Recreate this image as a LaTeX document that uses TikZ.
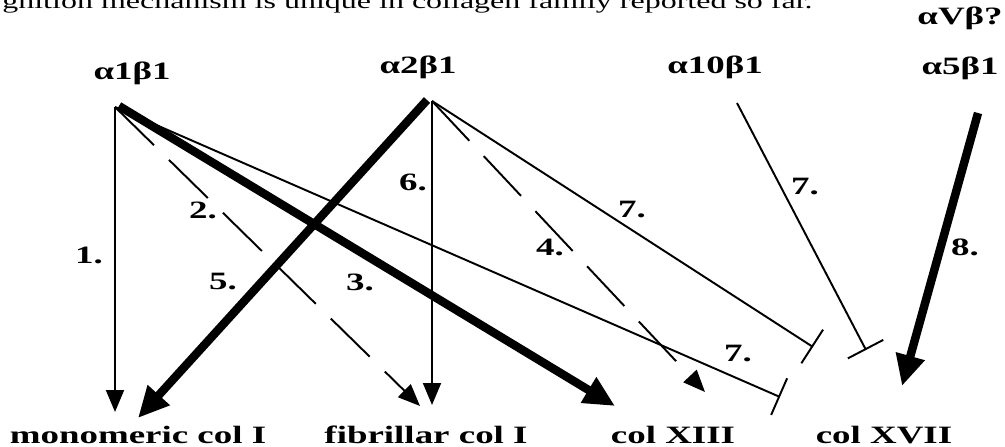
\documentclass[tikz,border=0pt]{standalone}
\usepackage{fontspec}
\setmainfont[FakeStretch=1.48]{Liberation Serif}
\usepackage{tikz}
\usetikzlibrary{arrows.meta}

\tikzset{
  lab/.style={font=\fontsize{14.2pt}{17pt}\selectfont\bfseries, inner sep=0pt},
  lnthin/.style={line width=1.1pt},
  lnthick/.style={line width=4.8pt},
  lndash/.style={line width=1.1pt, dash pattern=on 31pt off 12pt},
  tothin/.style={-{Triangle[length=4.4mm,width=3.6mm]}},
  tothick/.style={-{Triangle[length=6.2mm,width=5.6mm]}},
  toblock/.style={-{Bar[width=8mm]}}
}

\begin{document}
\begin{tikzpicture}[x=0.2mm,y=-0.2mm]
\clip (0,0) rectangle (1005,447);
\fill[white] (0,0) rectangle (1005,447);
\node[anchor=base west, inner sep=0pt, font=\fontsize{12.3pt}{14pt}\selectfont] (intro) at (2,9) {gnition mechanism is unique in collagen family reported so far.};

% integrins
\node[lab, anchor=base] (a1b1) at (132,80) {α1β1};
\node[lab, anchor=base] (a2b1) at (418,74) {α2β1};
\node[lab, anchor=base] (a10b1) at (715,74) {α10β1};
\node[lab, anchor=base] (avb) at (960,25) {αVβ?};
\node[lab, anchor=base] (a5b1) at (960,75) {α5β1};

% collagens
\node[lab, anchor=base] (monocol) at (138,443) {monomeric col I};
\node[lab, anchor=base] (fibcol) at (426,443) {fibrillar col I};
\node[lab, anchor=base] (col13) at (673,443) {col XIII};
\node[lab, anchor=base] (col17) at (884,443) {col XVII};

\coordinate (s1) at (115,107);
\coordinate (s1b) at (119,106);
\coordinate (s2) at (432,101);
\coordinate (s2b) at (427,100);
\coordinate (s10) at (737,103);
\coordinate (s5) at (978,113);

\coordinate (t1) at (115,412);
\coordinate (t5) at (138,418);
\coordinate (t2) at (420,406);
\coordinate (t6) at (432,405);
\coordinate (t3) at (615,406);
\coordinate (t4) at (705,392);
\coordinate (b1) at (780,397);
\coordinate (b2) at (813,347);
\coordinate (b10) at (866,350);
\coordinate (t8) at (902,386);

\draw[lnthin, tothin] (s1) -- (t1);
\draw[lndash, tothin] (s1) -- (t2);
\draw[lnthin, toblock] (s1) -- (b1);
\draw[lnthick, tothick] (s1b) -- (t3);
\draw[lnthick, tothick] (s2b) -- (t5);
\draw[lnthin, tothin] (s2) -- (t6);
\draw[lndash, tothin] (s2) -- (t4);
\draw[lnthin, toblock] (s2) -- (b2);
\draw[lnthin, toblock] (s10) -- (b10);
\draw[lnthick, tothick] (s5) -- (t8);

% step numbers
\node[lab] (n1) at (89,255) {1.};
\node[lab] (n2) at (203,210) {2.};
\node[lab] (n3) at (360,282) {3.};
\node[lab] (n4) at (550,247) {4.};
\node[lab] (n5) at (223,282) {5.};
\node[lab] (n6) at (413,182) {6.};
\node[lab] (n7a) at (632,210) {7.};
\node[lab] (n7b) at (805,187) {7.};
\node[lab] (n7c) at (738,354) {7.};
\node[lab] (n8) at (965,247) {8.};
\end{tikzpicture}
\end{document}
